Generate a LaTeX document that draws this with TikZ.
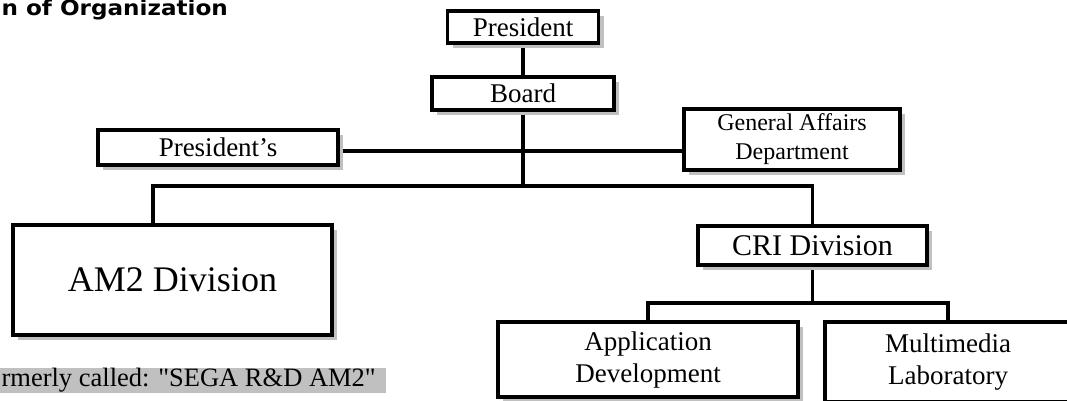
\documentclass[tikz,border=0pt]{standalone}
\usepackage{fontspec}
\setmainfont{Liberation Serif}
\newfontfamily\headfont[FakeStretch=1.1]{DejaVu Sans}
\usetikzlibrary{shadows,backgrounds}
\definecolor{shade}{HTML}{C0C0C0}

\begin{document}
\begin{tikzpicture}[x=1pt, y=-1pt, line width=3.2pt,
  unit/.style={draw, fill=white, inner sep=0pt, align=center,
    drop shadow={shadow xshift=5pt, shadow yshift=-5pt, fill=shade, opacity=1}},
  txt/.style={font=\fontsize{27}{32}\selectfont},
  link/.style={draw=black, line width=3.2pt}]
\useasboundingbox (0,0) rectangle (1067,400);

\node (title) [anchor=base west, inner sep=0pt, font=\headfont\bfseries\fontsize{21}{24}\selectfont] at (0,15.5) {n of Organization};

\node (pres) [unit, txt, minimum width=151pt, minimum height=32pt] at (523,27) {President};
\node (board) [unit, txt, minimum width=182pt, minimum height=33pt] at (523,93.5) {Board};
\node (presoff) [unit, txt, minimum width=240pt, minimum height=35pt] at (218,147.5) {President’s};
\node (genaff) [unit, font=\fontsize{24}{29}\selectfont, minimum width=216pt, minimum height=61pt] at (792,139.5) {General Affairs\\Department};

\node (am2) [unit, font=\fontsize{36}{40}\selectfont, minimum width=319pt, minimum height=110pt] at (172.5,280) {AM2 Division};
\node (cri) [unit, font=\fontsize{30}{34}\selectfont, minimum width=229pt, minimum height=39pt] at (812.5,245.5) {CRI Division};

\node (app) [unit, txt, minimum width=300pt, minimum height=75pt] at (648,359.5) {Application\\Development};
\node (mm) [unit, txt, minimum width=246pt, minimum height=80pt] at (948,362) {Multimedia\\Laboratory};

\node (formerly) [anchor=west, fill=shade, inner xsep=10pt, inner ysep=0pt, minimum height=25pt, font=\fontsize{26.5}{30}\selectfont] at (-10,380.5) {rmerly called: \textquotedbl SEGA R\&D AM2\textquotedbl};

\coordinate (staff) at (523,151);
\coordinate (bus) at (523,186);
\coordinate (am2drop) at (153,225);
\coordinate (subbus) at (812.5,303);

\begin{scope}[on background layer]
\draw [link] (pres.south) -- (board.north);
\draw [link] (board.south) -- (bus);
\draw [link] (presoff.east |- staff) -- (genaff.west |- staff);
\draw [link] (am2drop) |- (bus) -| (cri.north);
\draw [link] (cri.south) -- (subbus);
\draw [link] (app.north) |- (subbus) -| (mm.north);
\end{scope}
\end{tikzpicture}
\end{document}
